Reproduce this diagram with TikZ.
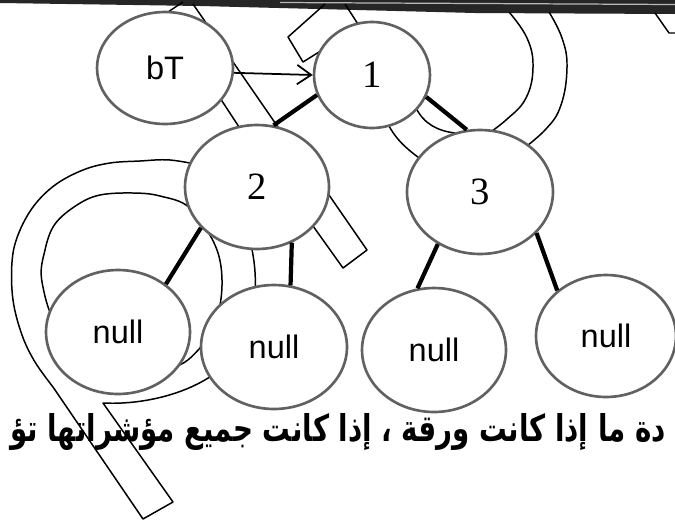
\documentclass[tikz,border=0pt]{standalone}
\usepackage{fontspec}
\setmainfont{Liberation Serif}
\newfontfamily\sansf{Liberation Sans}
\newfontfamily\arabicfont[Script=Arabic]{DejaVu Sans}
\TeXXeTstate=1
\usetikzlibrary{shapes.geometric,arrows.meta}
\tikzset{
  treenode/.style={ellipse, draw=black!62, line width=1.5pt, fill=white, inner sep=0pt},
  bgline/.style={black, line width=0.85pt, line join=round},
  tedge/.style={black, line width=2.4pt},
  sanstext/.style={font=\sansf\fontsize{18.5}{20}\selectfont},
  numtext/.style={font=\fontsize{22}{24}\selectfont},
}
\begin{document}
\begin{tikzpicture}[x=0.02cm,y=-0.02cm]
\useasboundingbox (0,0) rectangle (675,521);
\clip (0,0) rectangle (675,521);
\fill[white] (0,0) rectangle (675,521);
% top dark band of the page
\fill[black!85] (0,0) -- (675,0) -- (675,14) -- (475,13) -- (200,6) -- (0,3) -- cycle;
\draw[gray!55, line width=0.7pt] (280,2.5) -- (675,4.5);
% background ribbons
\draw[bgline] (183,2) -- (165,14) -- (241,130);
\draw[bgline] (193,4) -- (280,130);
\draw[bgline] (325,4) -- (288,37) -- (303,62) -- (335,42);
\draw[bgline] (345,4) -- (365,35);
\draw[bgline] plot[smooth, tension=0.7] coordinates {(509,12) (527,38) (533,67) (526,98) (506,120) (482,138)};
\draw[bgline] plot[smooth, tension=0.7] coordinates {(549,12) (562,38) (567,67) (561,105) (545,130) (515,155)};
\draw[bgline] (416,108) .. controls (424,124) and (438,131) .. (455,133);
\draw[bgline] (388,124) .. controls (396,140) and (408,150) .. (422,160);
\draw[bgline] (655,13) -- (669,33) -- (676,33);
\draw[bgline] plot[smooth, tension=0.6] coordinates {(205,166) (170,160) (140,161) (110,163) (83,170) (55,185) (33,207) (18,235) (12,262) (13,300) (22,335) (35,362) (53,387)} -- (143,519) -- (173,502) -- (103,403) .. controls (140,405) and (190,395) .. (222,368);
\draw[bgline] plot[smooth cycle, tension=0.6] coordinates {(190,208) (160,196) (133,193) (100,195) (77,205) (55,224) (45,250) (42,282) (60,330) (110,365) (170,368) (200,348) (217,317) (222,280) (215,245)};
\draw[bgline] (320,182) -- (367,250) -- (343,268) -- (303,212);
\draw[bgline] (250,240) .. controls (255,262) and (256,276) .. (255,295);
% tree nodes
\node[treenode, sanstext, minimum width=2.72cm, minimum height=2.24cm] (bT) at (165,68) {bT};
\node[treenode, numtext, minimum width=2.32cm, minimum height=2.12cm] (one) at (372,75) {1};
\node[treenode, numtext, minimum width=2.88cm, minimum height=2.48cm] (two) at (257,187) {2};
\node[treenode, numtext, minimum width=2.92cm, minimum height=2.48cm] (three) at (480,192) {3};
\node[treenode, sanstext, minimum width=2.88cm, minimum height=2.48cm] (n1) at (118,332) {null};
\node[treenode, sanstext, minimum width=2.92cm, minimum height=2.48cm] (n2) at (274,347) {null};
\node[treenode, sanstext, minimum width=2.88cm, minimum height=2.48cm] (n3) at (434,350) {null};
\node[treenode, sanstext, minimum width=2.80cm, minimum height=2.44cm] (n4) at (606,336) {null};
% connectors
\draw[line width=1pt, -{Straight Barb[length=8pt,width=11pt]}] (bT.-4) -- (one.180);
\draw[tedge] (one.200) -- (two.75);
\draw[tedge] (one.338) -- (three.102);
\draw[tedge] (two.216) -- (n1.45);
\draw[tedge] (two.302) -- (n2.75);
\draw[tedge] (three.231) -- (n3.105);
\draw[tedge] (three.324) -- (n4.137);
% Arabic text line
\node[anchor=base, inner sep=0pt] (ar) at (338,441) {\scalebox{0.75}[1]{\arabicfont\bfseries\fontsize{21}{24}\selectfont\beginR دة ما إذا كانت ورقة ، إذا كانت جميع مؤشراتها تؤ\endR}};
\end{tikzpicture}
\end{document}
